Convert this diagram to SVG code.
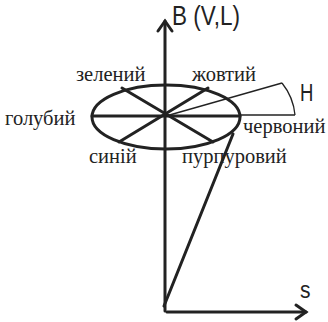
<svg xmlns="http://www.w3.org/2000/svg" width="328" height="322" viewBox="0 0 328 322">
<style>
.thick{fill:none;stroke:#222;stroke-width:3;stroke-linecap:round}
.thin{fill:none;stroke:#222;stroke-width:1.3}
.serif{font-family:"Liberation Serif","Times New Roman",serif;font-size:20.5px;fill:#222}
.sans{font-family:"Liberation Sans",Arial,sans-serif;fill:#222}
</style>
<rect width="328" height="322" fill="#fff"/>
<g id="connectors">
<line class="thick" x1="165" y1="311" x2="165" y2="21"/>
<polyline class="thick" points="158,31 165,21 172,31"/>
<line class="thick" x1="167" y1="312" x2="306" y2="312"/>
<polyline class="thick" points="296,305 306,312 296,319"/>
<line class="thick" x1="164" y1="306" x2="233" y2="134"/>
</g>
<g id="hue-disc">
<ellipse class="thick" cx="166" cy="117" rx="74" ry="32"/>
<line class="thick" x1="92" y1="116" x2="240" y2="116"/>
<line class="thick" x1="122" y1="88" x2="213" y2="142"/>
<line class="thick" x1="208" y1="88" x2="119" y2="142"/>
<line class="thin" x1="240" y1="115" x2="295" y2="115"/>
<line class="thin" x1="166" y1="116" x2="282" y2="83"/>
<path class="thin" d="M282,83 A60,60 0 0 1 295,115"/>
</g>
<g id="labels">
<text class="sans" font-size="22.5" transform="translate(172,25) scale(1,1.25)">B (V,L)</text>
<text class="serif" x="76" y="81">зелений</text>
<text class="serif" x="192" y="81">жовтий</text>
<text class="serif" x="5" y="125">голубий</text>
<text class="serif" x="243" y="133">червоний</text>
<text class="serif" x="89" y="163">синій</text>
<text class="serif" x="182" y="163">пурпуровий</text>
<text class="sans" font-size="18.5" transform="translate(300,101) scale(1,1.25)">H</text>
<text class="sans" font-size="21" transform="translate(300,298) scale(1,1.1)">s</text>
</g>
</svg>
